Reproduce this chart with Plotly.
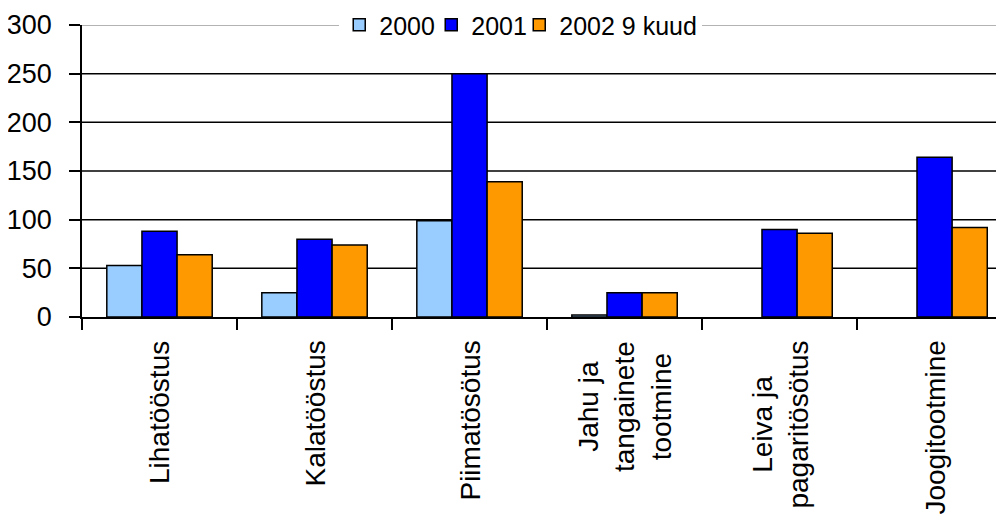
import plotly.graph_objects as go

categories = [
    "Lihatööstus",
    "Kalatööstus",
    "Piimatösötus",
    "Jahu ja<br>tangainete<br>tootmine",
    "Leiva ja<br>pagaritösötus",
    "Joogitootmine",
]
series_names = ["2000", "2001", "2002 9 kuud"]
values_2000 = [53, 25, 99, 2, None, None]
values_2001 = [88, 80, 250, 25, 90, 164]
values_2002 = [64, 74, 139, 25, 86, 92]
y_ticks = [0, 50, 100, 150, 200, 250, 300]

colors = ["#99CCFF", "#0000FF", "#FF9900"]
legend_widths = [47, 43, None]
FONT = "Liberation Sans, Arial, sans-serif"

fig = go.Figure()
for name, vals, col, lw in zip(series_names, [values_2000, values_2001, values_2002], colors, legend_widths):
    fig.add_trace(go.Bar(
        x=categories, y=vals, name=name,
        marker=dict(color=col, line=dict(color="black", width=1.5)),
        legendwidth=lw,
    ))

# horizontal gridlines at the tick values (top one drawn grey)
for v in y_ticks[1:]:
    fig.add_shape(
        type="line", xref="paper", yref="y", x0=0, x1=1, y0=v, y1=v,
        line=dict(color="#9a9a9a" if v == y_ticks[-1] else "black", width=1.5),
        layer="below",
    )

# category labels: rotated, centred lines
for cat in categories:
    fig.add_annotation(
        x=cat, xref="x", y=0, yref="paper", yanchor="top", xanchor="center",
        yshift=-22, text=cat, textangle=-90, align="center", showarrow=False,
        font=dict(size=28, family=FONT, color="black"),
    )

fig.update_layout(
    width=996, height=509,
    margin=dict(l=74, r=0, t=17, b=200, autoexpand=False),
    paper_bgcolor="white", plot_bgcolor="white",
    barmode="group", bargap=0.32, bargroupgap=0,
    font=dict(family=FONT, color="black"),
    legend=dict(
        orientation="h", x=0.279, xanchor="left", y=1, yanchor="middle",
        bgcolor="white", font=dict(size=25, family=FONT, color="black"),
        traceorder="normal",
    ),
    showlegend=True,
)
fig.update_yaxes(
    range=[0, 300], tickvals=y_ticks, showgrid=False, zeroline=False,
    showline=True, linecolor="black", linewidth=1.5,
    ticks="outside", ticklen=11, tickwidth=1.5, tickcolor="black",
    tickfont=dict(size=27, family=FONT, color="black"),
    ticklabelstandoff=12, automargin=False,
)
fig.update_xaxes(
    type="category", range=[-0.5, 5.448], tickson="boundaries",
    showline=True, linecolor="black", linewidth=1.5, showgrid=False,
    ticks="outside", ticklen=11, tickwidth=1.5, tickcolor="black",
    showticklabels=False, automargin=False,
)

fig.write_html("out.html")
